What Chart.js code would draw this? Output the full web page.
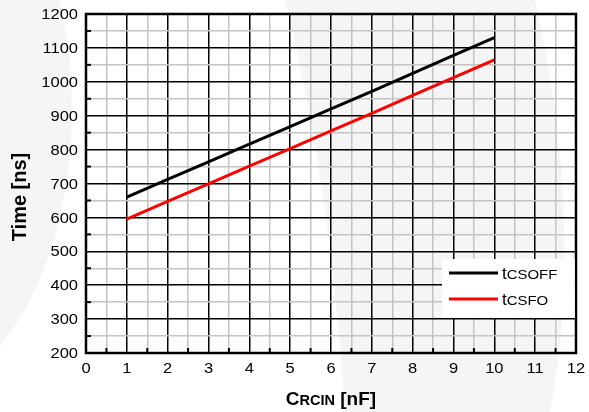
<!DOCTYPE html>
<html><head><meta charset="utf-8">
<script src="https://cdn.jsdelivr.net/npm/chart.js@4/dist/chart.umd.min.js"></script>
<style>html,body{margin:0;padding:0;background:#fff}#wrap{width:589px;height:412px}</style>
</head><body><div id="wrap"><canvas id="c" width="589" height="412"></canvas></div>
<script>
const capacitance = [1,2,3,4,5,6,7,8,9,10];
const tCSOFF = [660,712,764,816,868,920,972,1025,1078,1130];
const tCSFO  = [595,647,699,751,803,855,907,960,1012,1065];
const seriesNames = [['t','CSOFF'],['t','CSFO']];
const seriesColors = ['#000000','#ff0000'];
const xTicks = [0,1,2,3,4,5,6,7,8,9,10,11,12];
const yTicks = [200,300,400,500,600,700,800,900,1000,1100,1200];
const FONT = '"Liberation Sans", Arial, sans-serif';

function stretchText(ctx, text, x, y, align, font, sx){
  ctx.save();
  ctx.font = font;
  const w = ctx.measureText(text).width*sx;
  let left = align==='right' ? x-w : align==='center' ? x-w/2 : x;
  ctx.translate(left, y);
  ctx.scale(sx,1);
  ctx.textAlign='left';
  ctx.fillText(text,0,0);
  ctx.restore();
  return w;
}
function partsWidth(ctx, parts){
  let w=0; for(const p of parts){ctx.font=p[1]; w+=ctx.measureText(p[0]).width*p[2];} return w;
}
function drawParts(ctx, parts, x, y){
  for(const p of parts){ x += stretchText(ctx,p[0],x,y,'left',p[1],p[2]); }
}

const bgPlugin = {
  id:'bg',
  beforeDraw(chart){
    const ctx=chart.ctx;
    ctx.save();
    ctx.fillStyle='#ffffff';
    ctx.fillRect(0,0,chart.width,chart.height);
    ctx.fillStyle='#f5f5f5';
    ctx.beginPath();
    ctx.ellipse(-100,110,172,290,0,0,Math.PI*2);
    ctx.fill();
    ctx.beginPath();
    ctx.moveTo(285,0);ctx.lineTo(535,0);
    ctx.quadraticCurveTo(585,220,550,412);
    ctx.lineTo(345,412);
    ctx.quadraticCurveTo(330,180,285,0);
    ctx.fill();
    ctx.restore();
  }
};

const decoPlugin = {
  id:'deco',
  afterDatasetsDraw(chart){
    const ctx=chart.ctx, xs=chart.scales.x, ys=chart.scales.y, a=chart.chartArea;
    ctx.save();
    ctx.strokeStyle='#000'; ctx.lineWidth=2;
    for(let v=0.5; v<12; v+=1){ const px=xs.getPixelForValue(v); ctx.beginPath(); ctx.moveTo(px,a.bottom); ctx.lineTo(px,a.bottom-5); ctx.stroke(); }
    for(let v=250; v<1200; v+=100){ const py=ys.getPixelForValue(v); ctx.beginPath(); ctx.moveTo(a.left,py); ctx.lineTo(a.left+5,py); ctx.stroke(); }
    ctx.lineWidth=2.5; ctx.strokeRect(a.left,a.top,a.right-a.left,a.bottom-a.top);
    ctx.fillStyle='#000'; ctx.textBaseline='middle';
    const tf='15px '+FONT;
    for(const v of yTicks){ stretchText(ctx,String(v),a.left-8,ys.getPixelForValue(v)+1,'right',tf,1.1); }
    for(const v of xTicks){ stretchText(ctx,String(v),xs.getPixelForValue(v),369,'center',tf,1.1); }
    // x title
    const xparts=[['C','bold 19px '+FONT,1],['RCIN','bold 14.5px '+FONT,1],[' [nF]','bold 19px '+FONT,1]];
    ctx.textBaseline='alphabetic';
    const xw=partsWidth(ctx,xparts);
    drawParts(ctx,xparts,331-xw/2,405);
    // y title
    ctx.save();
    ctx.translate(26,197); ctx.rotate(-Math.PI/2);
    ctx.font='bold 20px '+FONT;
    ctx.textAlign='center'; ctx.fillText('Time [ns]',0,0);
    ctx.restore();
    // legend
    const lx=442, ly=259, lw=a.right-1.25-442, lh=59;
    ctx.fillStyle='#fff'; ctx.fillRect(lx,ly,lw,lh);
    chart.data.datasets.forEach((ds,i)=>{
      const y=273+i*26;
      ctx.strokeStyle=ds.borderColor; ctx.lineWidth=3;
      ctx.beginPath(); ctx.moveTo(449,y); ctx.lineTo(498,y); ctx.stroke();
      ctx.fillStyle='#000'; ctx.textBaseline='alphabetic';
      drawParts(ctx,[[seriesNames[i][0],'17px '+FONT,1],[seriesNames[i][1],'13px '+FONT,1.15]],502,y+6);
    });
    ctx.restore();
  }
};

new Chart(document.getElementById('c'),{
  type:'line',
  data:{
    datasets:[
      {label:seriesNames[0].join(''),data:capacitance.map((x,i)=>({x,y:tCSOFF[i]})),borderColor:seriesColors[0],borderWidth:3,pointRadius:0,fill:false,tension:0},
      {label:seriesNames[1].join(''),data:capacitance.map((x,i)=>({x,y:tCSFO[i]})),borderColor:seriesColors[1],borderWidth:3,pointRadius:0,fill:false,tension:0}
    ]
  },
  plugins:[bgPlugin,decoPlugin],
  options:{
    responsive:false, animation:false, devicePixelRatio:1,
    layout:{padding:{top:14,right:13,left:0,bottom:0}},
    plugins:{legend:{display:false},tooltip:{enabled:false}},
    scales:{
      x:{type:'linear',min:0,max:12,
        afterFit(s){s.height=59;},
        ticks:{stepSize:0.5,display:false},
        border:{display:false},
        grid:{drawTicks:false,color:c=>Number.isInteger(c.tick.value)?'#000':'#c4c4c4',lineWidth:1.5}},
      y:{type:'linear',min:200,max:1200,
        afterFit(s){s.width=86;},
        ticks:{stepSize:50,display:false},
        border:{display:false},
        grid:{drawTicks:false,color:c=>c.tick.value%100===0?'#000':'#c4c4c4',lineWidth:1.5}}
    }
  }
});
</script></body></html>
